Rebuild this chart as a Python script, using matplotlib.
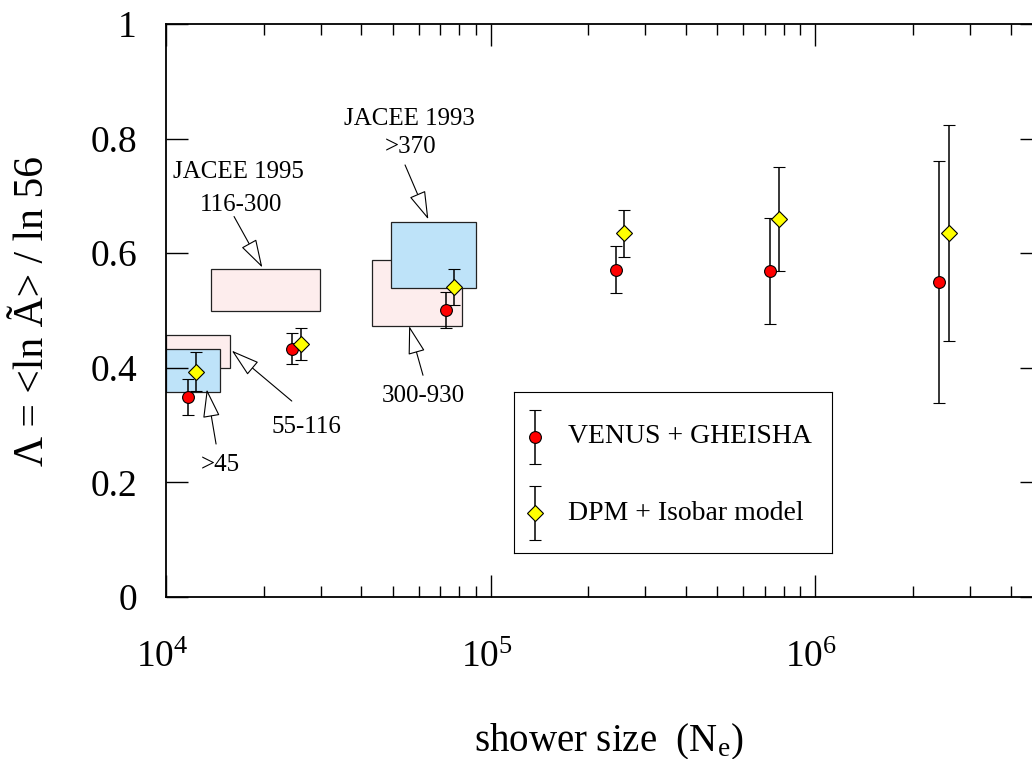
import matplotlib
matplotlib.use('Agg')
import matplotlib.pyplot as plt
import matplotlib.transforms as mtransforms
import numpy as np
from matplotlib.patches import Rectangle
from matplotlib.ticker import LogLocator, FuncFormatter, NullFormatter, MultipleLocator

plt.rcParams['font.family'] = ['Liberation Serif', 'DejaVu Serif']
plt.rcParams['mathtext.fontset'] = 'custom'
plt.rcParams['mathtext.rm'] = 'Liberation Serif'
plt.rcParams['mathtext.it'] = 'Liberation Serif:italic'

# simulazione VENUS + GHEISHA
ne_venus = [1.17e4, 2.44e4, 7.30e4, 2.44e5, 7.26e5, 2.41e6]
lam_venus = [0.349, 0.433, 0.501, 0.571, 0.569, 0.550]
err_venus = [0.031, 0.027, 0.031, 0.041, 0.092, 0.211]

# simulazione DPM + Isobar
ne_dpm = [1.24e4, 2.60e4, 7.73e4, 2.57e5, 7.75e5, 2.58e6]
lam_dpm = [0.393, 0.441, 0.541, 0.635, 0.660, 0.635]
err_dpm = [0.034, 0.028, 0.031, 0.041, 0.091, 0.189]

# rettangoli JACEE (intervalli in Ne e in Lambda)
box_label = ['55-116', '>45', '116-300', '300-930', '>370']
box_year = [1995, 1993, 1995, 1995, 1993]
box_x_lo = [1.0e4, 1.0e4, 1.38e4, 4.32e4, 4.93e4]
box_x_hi = [1.57e4, 1.47e4, 2.98e4, 8.18e4, 9.04e4]
box_y_lo = [0.400, 0.358, 0.500, 0.4735, 0.540]
box_y_hi = [0.457, 0.433, 0.572, 0.589, 0.655]

# etichette con freccia: testo, posizione testo, coda e punta della freccia
ann_text = ['116-300', '>370', '300-930', '55-116', '>45']
ann_pos = [(1.698e4, 0.684), (5.65e4, 0.785), (6.19e4, 0.351), (2.70e4, 0.296), (1.467e4, 0.230)]
ann_tail = [(1.62e4, 0.664), (5.45e4, 0.754), (6.19e4, 0.387), (2.44e4, 0.342), (1.426e4, 0.267)]
ann_tip = [(1.98e4, 0.575), (6.43e4, 0.659), (5.61e4, 0.473), (1.594e4, 0.430), (1.335e4, 0.3625)]
header_text = ['JACEE 1995', 'JACEE 1993']
header_pos = [(1.675e4, 0.742), (5.63e4, 0.834)]

legend_text = ['VENUS + GHEISHA', 'DPM + Isobar model']

colori = {1995: '#fdeded', 1993: '#bee3f9'}

fig = plt.figure(figsize=(10.32, 7.59), dpi=100)
ax = fig.add_axes([0.1609, 0.2134, 0.8488, 0.755])
ax.set_xscale('log')
ax.set_xlim(1e4, 5e6)
ax.set_ylim(0, 1)

for i in range(len(box_label)):
    r = Rectangle((box_x_lo[i], box_y_lo[i]), box_x_hi[i] - box_x_lo[i], box_y_hi[i] - box_y_lo[i],
                  facecolor=colori[box_year[i]], edgecolor='#222222', linewidth=0.9, zorder=1)
    ax.add_patch(r)

stile_venus = dict(fmt='o', ms=8.5, mfc='#ff0000', mec='black', mew=0.8, ecolor='black',
                   elinewidth=1.1, capsize=4.5, capthick=1.1)
stile_dpm = dict(fmt='D', ms=7.8, mfc='#ffff00', mec='black', mew=0.8, ecolor='black',
                 elinewidth=1.1, capsize=4.5, capthick=1.1)

ax.errorbar(ne_venus, lam_venus, yerr=err_venus, zorder=3, **stile_venus)
ax.errorbar(ne_dpm, lam_dpm, yerr=err_dpm, zorder=3, **stile_dpm)

for i in range(len(ann_text)):
    ax.text(ann_pos[i][0], ann_pos[i][1], ann_text[i], fontsize=18, ha='center', va='center')
    ax.annotate('', xy=ann_tip[i], xytext=ann_tail[i],
                arrowprops=dict(arrowstyle='-|>,head_length=0.9,head_width=0.27', mutation_scale=20,
                                fc='white', ec='black', lw=0.8, shrinkA=0, shrinkB=0))
for i in range(len(header_text)):
    ax.text(header_pos[i][0], header_pos[i][1], header_text[i], fontsize=18, ha='center', va='center')

ax.yaxis.set_major_locator(MultipleLocator(0.2))
ax.yaxis.set_major_formatter(FuncFormatter(lambda v, p: f'{v:g}'))
ax.xaxis.set_major_locator(LogLocator(base=10, numticks=10))
ax.xaxis.set_minor_locator(LogLocator(base=10, subs=np.arange(2, 10), numticks=50))
ax.xaxis.set_major_formatter(FuncFormatter(lambda v, p: r'$\mathregular{10^{%d}}$' % round(np.log10(v))))
ax.xaxis.set_minor_formatter(NullFormatter())

ax.tick_params(which='both', direction='in', top=True, right=True, width=1.0)
ax.tick_params(which='major', length=15.8, labelsize=27)
ax.tick_params(which='minor', length=8)
ax.tick_params(axis='x', pad=31)
ax.tick_params(axis='y', pad=21)
for s in ax.spines.values():
    s.set_linewidth(1.3)

shift = mtransforms.ScaledTranslation(-4 / 100, 0, fig.dpi_scale_trans)
for lab in ax.get_xticklabels():
    lab.set_transform(lab.get_transform() + shift)

ax.set_xlabel('shower size  (N$_\\mathregular{e}$)', fontsize=28)
ax.xaxis.set_label_coords(0.5057, -0.218)
ax.set_ylabel('Λ = <ln Ã> / ln 56', fontsize=30)
ax.yaxis.set_label_coords(-0.130, 0.5)

# riquadro della legenda
lax = fig.add_axes([514 / 1032, 1 - 553 / 759, 318 / 1032, 161 / 759])
lax.set_xlim(0, 1)
lax.set_ylim(0, 1)
lax.set_xticks([])
lax.set_yticks([])
for s in lax.spines.values():
    s.set_linewidth(0.8)
righe_y = [0.7205, 0.2484]
lax.errorbar([0.066], [righe_y[0]], yerr=[0.168], **stile_venus)
lax.errorbar([0.066], [righe_y[1]], yerr=[0.168], **stile_dpm)
for i in range(len(legend_text)):
    lax.text(0.170, righe_y[i], legend_text[i], fontsize=20, ha='left', va='center')

fig.savefig('out.png', dpi=100)
